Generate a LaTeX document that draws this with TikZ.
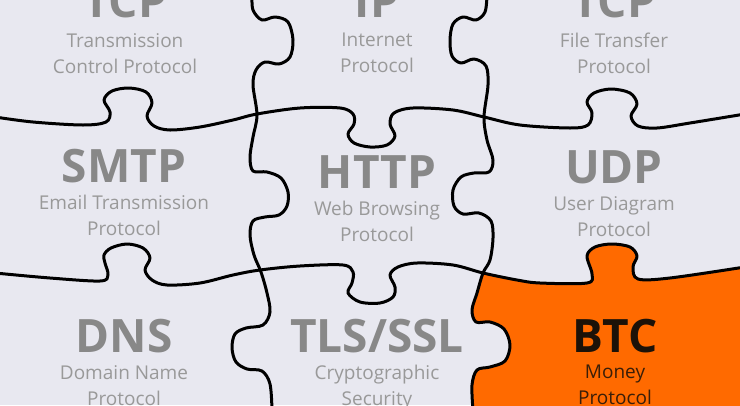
\documentclass[tikz,border=0pt]{standalone}
\usepackage{fontspec}
\setmainfont{Open Sans}
\usetikzlibrary{positioning}
\definecolor{puzzlebg}{HTML}{E8E8F0}
\definecolor{titlegray}{HTML}{888888}
\definecolor{subgray}{HTML}{999999}
\definecolor{btcorange}{HTML}{FF6A00}
\definecolor{btcdark}{HTML}{1C1208}
\definecolor{btcbrown}{HTML}{3A1E08}

\begin{document}
\begin{tikzpicture}[x=1pt,y=-1pt,
    cut/.style={black, line width=3pt, line cap=round, line join=round},
    proto/.style={font=\bfseries\fontsize{46}{46}\selectfont, text=titlegray, inner sep=0pt, anchor=base, text depth=0pt},
    info/.style={font=\fontsize{19}{26}\selectfont, text=subgray, align=center, inner sep=0pt, below=13pt of #1}]
  % Background
  \useasboundingbox (0,0) rectangle (740,405);
  \clip (0,0) rectangle (740,405);
  \fill[puzzlebg] (0,0) rectangle (740,405);
  % Orange piece
  \fill[btcorange] plot[smooth, tension=0.55] coordinates {(483,273) (517,280) (540,283) (587,283) (592,274) (587,256) (595,247) (612,244) (630,247) (637,256) (633,267) (638,279) (670,278) (745,267)}
    -- (745,410) -- plot[smooth, tension=0.55] coordinates {(473,410) (472,385) (477,370) (490,367) (505,361) (510,345) (504,329) (490,322) (476,322) (472,310) (477,293) (483,273)} -- cycle;
  % Vertical cuts
  \draw[cut] plot[smooth, tension=0.55] coordinates {(252,-5) (253,10) (262,20) (275,17) (288,22) (293,40) (290,57) (279,64) (265,62) (256,70) (253,85) (257,115) (253,137) (250,157) (253,171) (267,172) (281,178) (288,192) (287,206) (279,215) (265,217) (253,221) (250,235) (254,255) (261,272) (267,293) (270,312) (263,325) (246,328) (235,334) (232,348) (236,362) (247,369) (262,371) (270,384) (272,410)};
  \draw[cut] plot[smooth, tension=0.55] coordinates {(487,-5) (485,12) (476,20) (463,17) (453,24) (450,40) (452,56) (461,63) (474,59) (486,66) (488,85) (484,117) (487,140) (493,160) (489,172) (474,173) (461,177) (453,190) (454,206) (463,214) (479,213) (491,221) (493,238) (490,260) (483,273) (477,293) (472,310) (476,322) (490,322) (504,329) (510,345) (505,361) (490,367) (477,370) (472,385) (473,410)};
  % Horizontal cuts
  \draw[cut] plot[smooth, tension=0.55] coordinates {(-5,117) (33,122) (83,125) (106,122) (110,112) (104,100) (112,91) (129,88) (146,92) (152,103) (147,116) (154,126) (170,130) (200,127) (233,120) (257,114) (300,108) (340,108) (353,114) (354,124) (348,134) (354,143) (370,147) (387,145) (395,136) (390,124) (394,113) (413,108) (453,110) (484,117) (520,125) (570,128) (588,125) (592,113) (587,102) (594,93) (611,89) (630,93) (637,104) (631,116) (638,126) (657,128) (690,123) (745,114)};
  \draw[cut] plot[smooth, tension=0.55] coordinates {(-5,273) (50,278) (100,281) (108,275) (105,263) (104,255) (111,248) (127,244) (143,248) (150,258) (145,270) (152,280) (167,285) (200,283) (233,275) (260,270) (300,266) (343,265) (353,272) (352,283) (348,293) (360,302) (380,303) (393,297) (395,287) (390,275) (398,267) (417,263) (453,265) (483,273) (517,280) (540,283) (587,283) (592,274) (587,256) (595,247) (612,244) (630,247) (637,256) (633,267) (638,279) (670,278) (745,267)};
  % Top row
  \node[proto] (tcp) at (125,17) {TCP};
  \node[info=tcp, below=16pt of tcp] (tcpinfo) {Transmission\\Control Protocol};
  \node[proto] (ip) at (377,17) {IP};
  \node[info=ip, below=16pt of ip] (ipinfo) {Internet\\Protocol};
  \node[proto] (ftp) at (614,17) {TCP};
  \node[info=ftp, below=16pt of ftp] (ftpinfo) {File Transfer\\Protocol};
  % Middle row
  \node[proto] (smtp) at (124,182) {SMTP};
  \node[info=smtp] (smtpinfo) {Email Transmission\\Protocol};
  \node[proto] (http) at (377,188) {HTTP};
  \node[info=http] (httpinfo) {Web Browsing\\Protocol};
  \node[proto] (udp) at (614,183) {UDP};
  \node[info=udp] (udpinfo) {User Diagram\\Protocol};
  % Bottom row
  \node[proto] (dns) at (124,352) {DNS};
  \node[info=dns] (dnsinfo) {Domain Name\\Protocol};
  \node[proto] (tls) at (377,352) {TLS/SSL};
  \node[info=tls] (tlsinfo) {Cryptographic\\Security};
  \node[proto, text=btcdark] (btc) at (615,352) {BTC};
  \node[info=btc, text=btcbrown] (btcinfo) {Money\\Protocol};
\end{tikzpicture}
\end{document}
